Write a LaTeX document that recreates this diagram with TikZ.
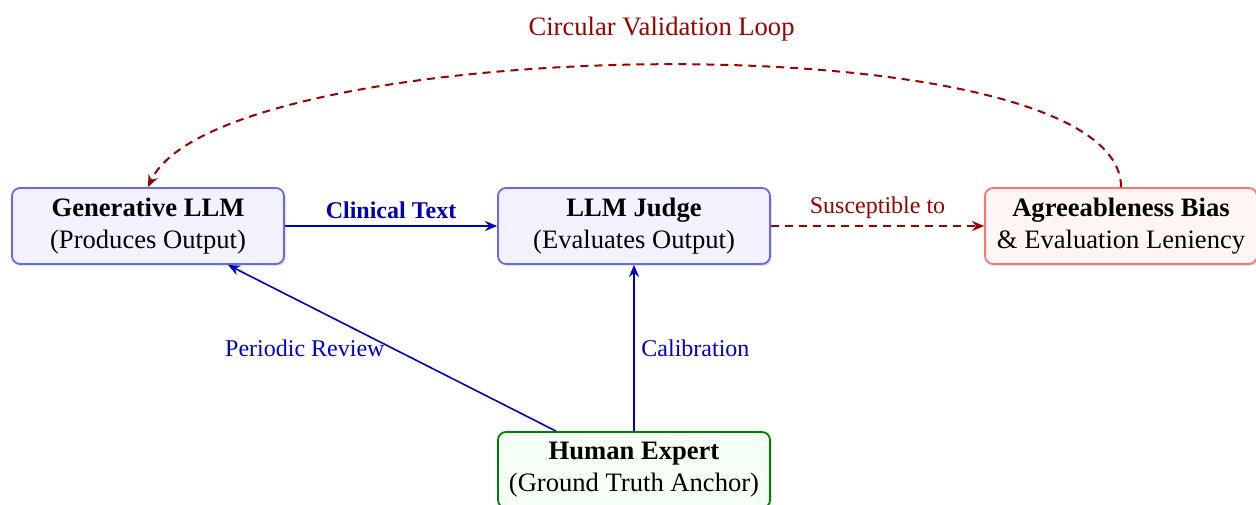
\documentclass[tikz,border=0pt]{standalone}
\usepackage{fontspec}
\setmainfont{Liberation Serif}
\usetikzlibrary{arrows.meta}
\usetikzlibrary{shadows}

\begin{document}
\begin{tikzpicture}[x=0.5pt,y=0.5pt,font=\fontsize{13.3}{16}\selectfont,
		box/.style={rectangle,rounded corners=4pt,draw,line width=0.9pt,align=center,minimum width=136pt,minimum height=38pt,inner sep=2pt,drop shadow={opacity=0.2,shadow xshift=1pt,shadow yshift=-1pt}},
		llmnode/.style={box,draw=blue!60,fill=blue!5},
		biasnode/.style={box,draw=red!55,fill=red!4},
		humannode/.style={box,draw=green!50!black,fill=green!4},
		flow/.style={-{Stealth[length=6pt,width=5pt]},thick,draw=blue!75!black},
		riskflow/.style={-{Stealth[length=6pt,width=5pt]},line width=1pt,dash pattern=on 4pt off 3pt,draw=red!60!black},
		lbl/.style={font=\fontsize{12}{14}\selectfont}
		]
		\useasboundingbox (0,0) rectangle (1256,-504);
		\node (gen) [llmnode] at (148,-226) {\textbf{Generative LLM}\\(Produces Output)};
		\node (judge) [llmnode] at (634,-226) {\textbf{LLM Judge}\\(Evaluates Output)};
		\node (bias) [biasnode] at (1121,-226) {\textbf{Agreeableness Bias}\\\& Evaluation Leniency};
		\node (human) [humannode] at (634,-470) {\textbf{Human Expert}\\(Ground Truth Anchor)};
		% main flow
		\draw[flow] (gen) -- node[above,lbl,text=blue!70!black]{\textbf{Clinical Text}} (judge);
		\draw[riskflow] (judge) -- node[above,lbl,text=red!60!black]{Susceptible to} (bias);
		% expert oversight
		\draw[flow] (human) -- node[right,lbl,text=blue!80!black]{Calibration} (judge);
		\draw[flow] ([xshift=-39pt]human.north) -- node[left,lbl,text=blue!80!black]{Periodic Review} ([xshift=40pt]gen.south);
		% loop back
		\draw[riskflow] (bias.north) to[out=90,in=65,looseness=0.45] node[above=8pt,text=red!60!black]{Circular Validation Loop} (gen.north);
\end{tikzpicture}
\end{document}
